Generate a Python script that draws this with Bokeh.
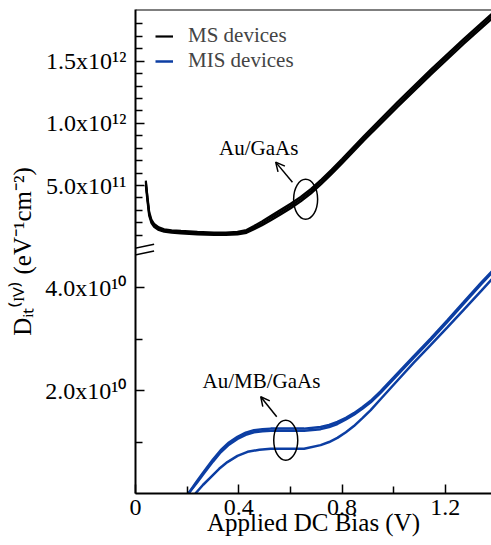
from bokeh.plotting import figure
from bokeh.models import (Range1d, FixedTicker, Span, Arrow, OpenHead,
                          Legend, LegendItem)
from bokeh.core.properties import value
from bokeh.embed import file_html
from bokeh.resources import INLINE

# ---------------- data ----------------
# MS devices (Au/GaAs): bundle of curves (upper / lower edge and middle)
ms_bias = [0.040, 0.046, 0.053, 0.062, 0.072, 0.090, 0.111, 0.140, 0.176, 0.240,
           0.304, 0.350, 0.395, 0.430, 0.459, 0.490, 0.524, 0.560, 0.601, 0.640,
           0.680, 0.720, 0.760, 0.800, 0.885, 1.014, 1.143, 1.272, 1.379, 1.420]
ms_mid = [5.40e11, 4.00e11, 2.73e11, 2.10e11, 1.79e11, 1.52e11, 1.38e11, 1.30e11, 1.25e11, 1.17e11,
          1.12e11, 1.12e11, 1.16e11, 1.30e11, 1.60e11, 1.95e11, 2.38e11, 2.83e11, 3.35e11, 3.90e11,
          4.55e11, 5.30e11, 6.10e11, 6.95e11, 8.80e11, 1.15e12, 1.41e12, 1.66e12, 1.86e12, 1.94e12]
ms_upper = [5.25e11, 4.15e11, 2.88e11, 2.23e11, 1.91e11, 1.63e11, 1.48e11, 1.40e11, 1.35e11, 1.27e11,
            1.22e11, 1.22e11, 1.27e11, 1.42e11, 1.74e11, 2.11e11, 2.55e11, 3.01e11, 3.53e11, 4.08e11,
            4.73e11, 5.48e11, 6.28e11, 7.13e11, 8.98e11, 1.17e12, 1.43e12, 1.68e12, 1.88e12, 1.96e12]
ms_lower = [5.00e11, 3.82e11, 2.57e11, 1.97e11, 1.68e11, 1.42e11, 1.28e11, 1.20e11, 1.15e11, 1.07e11,
            1.02e11, 1.02e11, 1.06e11, 1.19e11, 1.47e11, 1.80e11, 2.21e11, 2.65e11, 3.17e11, 3.72e11,
            4.37e11, 5.12e11, 5.92e11, 6.77e11, 8.62e11, 1.13e12, 1.39e12, 1.64e12, 1.84e12, 1.92e12]

# MIS devices (Au/MB/GaAs): upper bundle (two strands) and a lower curve
mis_bias_up = [0.205, 0.235, 0.266, 0.300, 0.330, 0.362, 0.395, 0.427, 0.459, 0.492,
               0.524, 0.590, 0.653, 0.717, 0.750, 0.782, 0.815, 0.846, 0.880, 0.911,
               0.950, 1.014, 1.078, 1.143, 1.207, 1.272, 1.340, 1.400]
mis_up_a = [0.0, 2.2e9, 4.3e9, 6.6e9, 8.4e9, 9.9e9, 1.10e10, 1.18e10, 1.23e10, 1.25e10,
            1.26e10, 1.26e10, 1.26e10, 1.29e10, 1.33e10, 1.39e10, 1.47e10, 1.56e10, 1.68e10, 1.80e10,
            1.99e10, 2.33e10, 2.67e10, 3.01e10, 3.36e10, 3.72e10, 4.10e10, 4.42e10]
mis_up_b = [0.0, 1.9e9, 4.0e9, 6.2e9, 8.0e9, 9.5e9, 1.06e10, 1.14e10, 1.19e10, 1.21e10,
            1.22e10, 1.22e10, 1.22e10, 1.25e10, 1.29e10, 1.35e10, 1.44e10, 1.53e10, 1.65e10, 1.77e10,
            1.96e10, 2.30e10, 2.64e10, 2.98e10, 3.33e10, 3.69e10, 4.07e10, 4.39e10]
mis_bias_low = [0.232, 0.262, 0.292, 0.324, 0.356, 0.395, 0.434, 0.480, 0.524, 0.590,
                0.653, 0.717, 0.750, 0.782, 0.815, 0.846, 0.880, 0.911, 0.949, 1.014,
                1.078, 1.143, 1.207, 1.272, 1.340, 1.400]
mis_low = [0.0, 1.7e9, 3.2e9, 4.8e9, 6.1e9, 7.3e9, 8.1e9, 8.5e9, 8.7e9, 8.7e9,
           8.7e9, 9.4e9, 1.00e10, 1.08e10, 1.19e10, 1.31e10, 1.47e10, 1.62e10, 1.83e10, 2.19e10,
           2.54e10, 2.88e10, 3.22e10, 3.57e10, 3.94e10, 4.27e10]

# axis ticks
x_major = [0.0, 0.4, 0.8, 1.2]
x_minor = [0.2, 0.6, 1.0]
bot_major = [2e10, 4e10]
bot_major_labels = ["2.0x10\u00b9\u2070", "4.0x10\u00b9\u2070"]
bot_minor = [1e10, 3e10]
top_major = [5e11, 1e12, 1.5e12]
top_major_labels = ["5.0x10\u00b9\u00b9", "1.0x10\u00b9\u00b2", "1.5x10\u00b9\u00b2"]
top_minor = [1e11, 2e11, 3e11, 4e11, 6e11, 7e11, 8e11, 9e11, 1.1e12, 1.2e12,
             1.3e12, 1.4e12, 1.6e12, 1.7e12, 1.8e12]

# ranges (broken y axis: lower panel = main range, upper panel = "top" range)
X_END = 1.379
BOT_START, BOT_END = 0.0, 9.40e10
TOP_START, TOP_END = -1.978e12, 1.916e12

# annotations
top_note = dict(text="Au/GaAs", x=0.477, y=7.98e11, ex=0.659, ey=3.90e11,
                ax0=0.608, ay0=5.27e11, ax1=0.543, ay1=6.88e11)
bot_note = dict(text="Au/MB/GaAs", x=0.488, y=2.18e10, ex=0.582, ey=1.035e10,
                ax0=0.547, ay0=1.49e10, ax1=0.485, ay1=1.88e10)
break_marks = [(-0.076, 4.69e10, 0.072, 4.84e10), (-0.076, 4.55e10, 0.072, 4.71e10)]

FONT = "Liberation Serif"
FONT_Q = "'Liberation Serif'"
BLUE = "#0c3ea3"


def to_main(v):
    return (v - TOP_START) / (TOP_END - TOP_START) * (BOT_END - BOT_START) + BOT_START


p = figure(width=491, height=545, output_backend="svg", toolbar_location=None,
           x_range=Range1d(0, X_END), y_range=Range1d(BOT_START, BOT_END),
           min_border_left=135, min_border_right=0, min_border_top=9, min_border_bottom=52)
p.extra_y_ranges = {"top": Range1d(TOP_START, TOP_END)}
p.outline_line_color = None
p.xgrid.visible = False
p.ygrid.visible = False
p.background_fill_color = "white"
p.border_fill_color = "white"

# curves
r_ms = []
for ys in (ms_lower, ms_upper, ms_mid):
    r_ms.append(p.line(ms_bias, ys, y_range_name="top", line_color="black", line_width=2.2))
r_mis = []
for xs, ys in ((mis_bias_low, mis_low), (mis_bias_up, mis_up_b), (mis_bias_up, mis_up_a)):
    r_mis.append(p.line(xs, ys, line_color=BLUE, line_width=2.5))

# x axis
xa = p.xaxis[0]
xa.ticker = FixedTicker(ticks=x_major, minor_ticks=x_minor)
xa.axis_label = "Applied DC Bias (V)"
# y axis (single axis carrying both panels' ticks)
ya = p.yaxis[0]
ticks = bot_major + [to_main(v) for v in top_major]
labels = bot_major_labels + top_major_labels
ya.ticker = FixedTicker(ticks=ticks, minor_ticks=bot_minor + [to_main(v) for v in top_minor])
ya.major_label_overrides = {t: l for t, l in zip(ticks, labels)}
ya.axis_label = "D\u1d62\u209c\u207d\u1d35\u2c7d\u207e (eV\u207b\u00b9cm\u207b\u00b2)"

for ax in (xa, ya):
    ax.axis_line_width = 2
    ax.axis_line_color = "black"
    ax.major_tick_in = 9
    ax.major_tick_out = 0
    ax.minor_tick_in = 7
    ax.minor_tick_out = 0
    ax.major_tick_line_width = 1.5
    ax.minor_tick_line_width = 1.5
    ax.major_tick_line_color = "black"
    ax.minor_tick_line_color = "black"
    ax.major_label_text_font = FONT_Q
    ax.major_label_text_font_size = "24px"
    ax.major_label_text_font_style = "normal"
    ax.major_label_text_color = "black"
    ax.axis_label_text_font = FONT
    ax.axis_label_text_font_size = "25px"
    ax.axis_label_text_font_style = "normal"
    ax.axis_label_text_color = "black"
xa.major_label_standoff = 6
xa.axis_label_standoff = -9
ya.major_label_standoff = 9
ya.axis_label_standoff = 6

# top frame line
p.add_layout(Span(location=BOT_END, dimension="width", line_color="black", line_width=2))

# axis break marks
for x0, y0, x1, y1 in break_marks:
    p.add_layout(Arrow(start=None, end=None, x_start=x0, y_start=y0, x_end=x1, y_end=y1,
                       line_color="black", line_width=1.5))

# annotations: text, arrow, ellipse
for note, rng in ((top_note, "top"), (bot_note, "default")):
    p.text(x=[note["x"]], y=[note["y"]], text=[note["text"]], y_range_name=rng,
           text_font=value(FONT), text_font_size="21px", text_align="center",
           text_baseline="middle", text_color="black")
    p.ellipse(x=[note["ex"]], y=[note["ey"]], width=24, height=40, width_units="screen",
              height_units="screen", y_range_name=rng, fill_color=None,
              line_color="black", line_width=1.5)
    p.add_layout(Arrow(end=OpenHead(size=9, line_width=1.5, line_color="black"),
                       x_start=note["ax0"], y_start=note["ay0"],
                       x_end=note["ax1"], y_end=note["ay1"], y_range_name=rng,
                       line_color="black", line_width=1.5))

legend = Legend(items=[LegendItem(label="MS devices", renderers=[r_ms[2]]),
                       LegendItem(label="MIS devices", renderers=[r_mis[2]])],
                location=(20, 420), margin=0, padding=4, spacing=0,
                glyph_width=18, glyph_height=24, label_height=24, label_standoff=15,
                label_text_font=FONT_Q, label_text_font_size="21px",
                label_text_font_style="normal",
                border_line_color=None, background_fill_alpha=0)
p.add_layout(legend)

open("out.html", "w").write(file_html(p, INLINE))
